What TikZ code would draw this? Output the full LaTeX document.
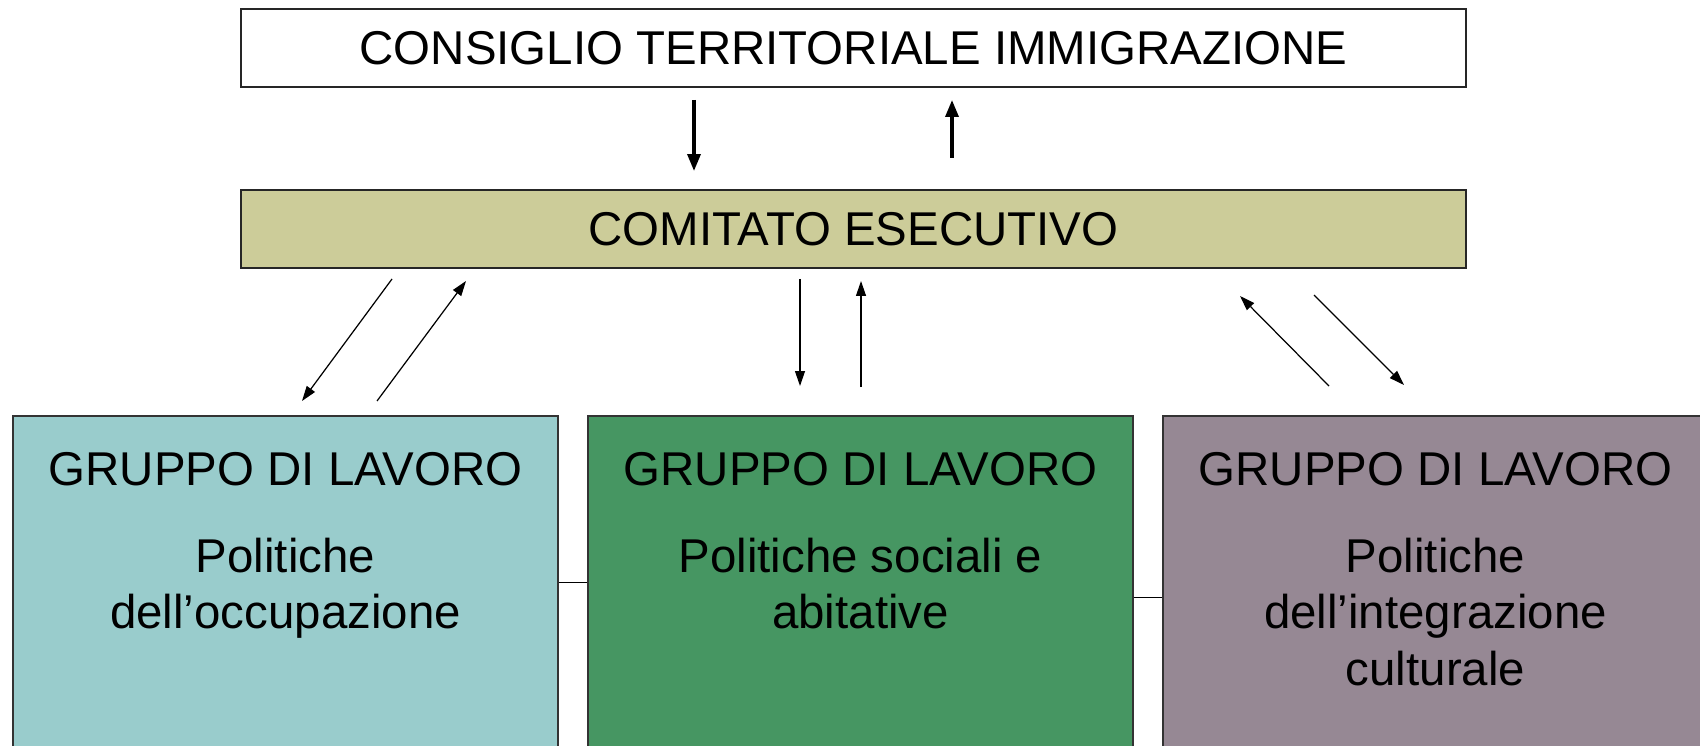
\documentclass[tikz,border=0pt]{standalone}
\usepackage{fontspec}
\setmainfont{Liberation Sans}
\usetikzlibrary{arrows.meta}

\definecolor{comitato}{RGB}{204,204,153}
\definecolor{occupazione}{RGB}{153,204,204}
\definecolor{sociali}{RGB}{70,150,98}
\definecolor{integrazione}{RGB}{150,136,148}

\tikzset{
	organo/.style={rectangle, draw=black!85, line width=0.9pt, inner sep=0pt,
		minimum width=24.5cm, minimum height=1.56cm,
		font=\fontsize{27}{32}\selectfont},
	gruppo/.style={rectangle, draw=black!80, line width=0.8pt, inner sep=0pt,
		minimum width=10.9cm, minimum height=7.68cm},
	testo/.style={anchor=north, align=center, inner sep=0pt,
		font=\fontsize{27}{32}\selectfont},
	flusso/.style={->, line width=0.7pt,
		>={Triangle[length=0.3cm, width=0.2cm]}},
	flussoforte/.style={->, line width=1.9pt,
		>={Triangle[length=0.34cm, width=0.26cm]}},
}

\begin{document}
\begin{tikzpicture}[x=0.02cm, y=-0.02cm]
	\useasboundingbox (0,0) rectangle (1700,746);

	\node (cti) [organo] at (853.5,48) {CONSIGLIO TERRITORIALE IMMIGRAZIONE};

	\node (ce) [organo, fill=comitato] at (853.5,229) {COMITATO ESECUTIVO};

	\node (occ) [gruppo, fill=occupazione] at (285.5,608) {};
	\node (soc) [gruppo, fill=sociali] at (860.5,608) {};
	\node (cult) [gruppo, fill=integrazione] at (1435.5,608) {};

	\node (occtxt) [testo] at ([yshift=-0.74cm]occ.north)
		{GRUPPO DI LAVORO\\[17.5pt]Politiche\\dell’occupazione};
	\node (soctxt) [testo] at ([yshift=-0.74cm]soc.north)
		{GRUPPO DI LAVORO\\[17.5pt]Politiche sociali e\\abitative};
	\node (culttxt) [testo] at ([yshift=-0.74cm]cult.north)
		{GRUPPO DI LAVORO\\[17.5pt]Politiche\\dell’integrazione\\culturale};

	\draw
		(occ.east |- 0,582) -- (soc.west |- 0,582);
	\draw
		(soc.east |- 0,597) -- (cult.west |- 0,597);

	\coordinate (giu0 a) at (694,100);
	\coordinate (giu0 b) at (694,171);
	\coordinate (su0 a) at (952,158);
	\coordinate (su0 b) at (952,100);

	\draw
		[flussoforte] (giu0 a) -- (giu0 b);
	\draw
		[flussoforte] (su0 a) -- (su0 b);

	\coordinate (giu1 a) at (392,279);
	\coordinate (giu1 b) at (302,401);
	\coordinate (su1 a) at (377,401);
	\coordinate (su1 b) at (466,281);

	\coordinate (giu2 a) at (800,279);
	\coordinate (giu2 b) at (800,386);
	\coordinate (su2 a) at (861,387);
	\coordinate (su2 b) at (861,281);

	\coordinate (su3 a) at (1329,386);
	\coordinate (su3 b) at (1240,296);
	\coordinate (giu3 a) at (1314,295);
	\coordinate (giu3 b) at (1404,385);

	\foreach \n in {1,2,3}
	{
		\draw
			[flusso] (giu\n\space a) -- (giu\n\space b);
		\draw
			[flusso] (su\n\space a) -- (su\n\space b);
	}
\end{tikzpicture}
\end{document}
